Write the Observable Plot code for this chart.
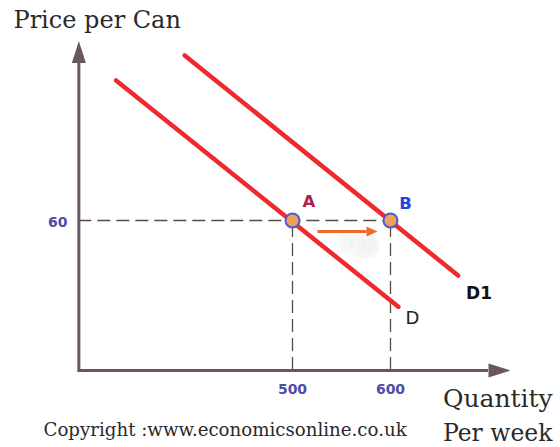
<!DOCTYPE html>
<html><head><meta charset="utf-8">
<script src="https://cdn.jsdelivr.net/npm/d3@7"></script>
<script src="https://cdn.jsdelivr.net/npm/@observablehq/plot@0.6"></script>
<style>body{margin:0;background:#fff}</style>
</head><body><div id="chart"></div>
<script>
// equilibrium points
const pointLabels = ["A", "B"];
const pointQuantity = [500, 600];
const pointPrice = [60, 60];
// tick values
const xTicks = [500, 600];
const yTicks = [60];
// demand curves (endpoints)
const curveNames = ["D", "D", "D1", "D1"];
const curveQuantity = [320, 608, 390, 669];
const curvePrice = [116, 25.5, 126, 38];
// axis extents (data units)
const axisOriginQuantity = 282;
const axisEndQuantity = 700;
const axisEndPrice = 123;
// shift arrow
const shiftFromQuantity = [525.5];
const shiftToQuantity = [575.5];
const shiftPrice = [55.6];
// soft shadow under the arrow
const shadowQuantity = [552, 562, 572, 578, 580];
const shadowPrice = [51, 50.5, 50, 49.5, 49.5];
const shadowRadius = [11, 13, 14, 12, 8];
// curve labels
const curveLabelNames = ["D", "D1"];
const curveLabelQuantity = [622.4, 690.3];
const curveLabelPrice = [21, 30.6];
// point label positions
const pointLabelQuantity = [516.8, 615.3];
const pointLabelPrice = [67.6, 66.8];
// titles
const titleTexts = ["Price per Can", "Quantity", "Per week", "Copyright :www.economicsonline.co.uk"];
const titleQuantity = [215.3, 653.5, 653.5, 245.9];
const titlePrice = [137.2, -14.4, -28, -26];
const titleSize = [24, 25, 23.5, 18.2];

const curves = curveNames.map((name, i) => ({name, q: curveQuantity[i], p: curvePrice[i]}));
const points = pointLabels.map((label, i) => ({label, q: pointQuantity[i], p: pointPrice[i], lq: pointLabelQuantity[i], lp: pointLabelPrice[i]}));
const curveLabels = curveLabelNames.map((name, i) => ({name, q: curveLabelQuantity[i], p: curveLabelPrice[i]}));
const titles = titleTexts.map((t, i) => ({t, q: titleQuantity[i], p: titlePrice[i], s: titleSize[i]}));
const shadow = shadowRadius.map((r, i) => ({q: shadowQuantity[i], p: shadowPrice[i], r}));

const axisColor = "#6a5560";
const headShape = {draw(context, l, r) { context.moveTo(-r, 0); context.lineTo(0, -l); context.lineTo(r, 0); context.closePath(); }};

const chart = Plot.plot({
  width: 560, height: 447,
  marginLeft: 78, marginBottom: 77, marginTop: 40, marginRight: 50,
  style: {fontFamily: "DejaVu Sans", background: "#fff"},
  x: {domain: [500, 600], range: [292, 390]},
  y: {domain: [0, 60], range: [370, 220]},
  r: {type: "identity"},
  marks: [
    Plot.dot(shadow, {x: "q", y: "p", r: "r", fill: "#9a9a9a", fillOpacity: 0.045, stroke: "none"}),
    Plot.ruleY([60], {x1: axisOriginQuantity, x2: 600, stroke: "#5a4a40", strokeWidth: 1.3, strokeDasharray: "13,6"}),
    Plot.ruleX(pointQuantity, {y1: 0, y2: 60, stroke: "#5a4a40", strokeWidth: 1.3, strokeDasharray: "13,6"}),
    Plot.ruleX([axisOriginQuantity], {y1: -0.6, y2: axisEndPrice, stroke: axisColor, strokeWidth: 3}),
    Plot.ruleY([0], {x1: axisOriginQuantity - 0.8, x2: axisEndQuantity, stroke: axisColor, strokeWidth: 3}),
    Plot.vector([{q: axisOriginQuantity, p: axisEndPrice, r: 0}, {q: axisEndQuantity, p: 0, r: 90}],
      {x: "q", y: "p", rotate: "r", length: 22, r: 7, shape: headShape, anchor: "start", fill: axisColor, stroke: "none"}),
    Plot.axisX(xTicks, {tickSize: 0, tickPadding: 14, fontSize: 14, fontWeight: "bold", color: "#4d4da6"}),
    Plot.axisY(yTicks, {tickSize: 0, tickPadding: 11, fontSize: 14, fontWeight: "bold", color: "#4d4da6", dy: 2}),
    Plot.line(curves, {x: "q", y: "p", z: "name", stroke: "#ee2a2f", strokeWidth: 4.5}),
    Plot.dot(points, {x: "q", y: "p", r: 7, fill: "#eea158", stroke: "#4b5bd6", strokeWidth: 2}),
    Plot.link(shiftPrice, {x1: () => shiftFromQuantity[0], x2: () => shiftToQuantity[0], y1: d => d, y2: d => d, stroke: "#ee6a2c", strokeWidth: 3}),
    Plot.vector(shiftPrice, {x: () => shiftToQuantity[0], y: d => d, rotate: 90, length: 11, r: 5, shape: headShape, anchor: "start", fill: "#ee6a2c", stroke: "none"}),
    Plot.text(points, {x: "lq", y: "lp", text: "label", fontSize: 16.5, fontWeight: "bold", fill: (d) => d.label === "A" ? "#b3204f" : "#2344e0"}),
    Plot.text(curveLabels.filter(d => d.name === "D"), {x: "q", y: "p", text: "name", fontSize: 18, fill: "#222"}),
    Plot.text(curveLabels.filter(d => d.name === "D1"), {x: "q", y: "p", text: "name", fontSize: 17, fontWeight: "bold", fill: "#111"}),
    Plot.text(titles, {x: "q", y: "p", text: "t", fontSize: "s", textAnchor: "start", lineAnchor: "bottom", fontFamily: "DejaVu Serif", fill: "#2a2a2a"})
  ]
});
document.getElementById("chart").append(chart);
</script>
</body></html>
